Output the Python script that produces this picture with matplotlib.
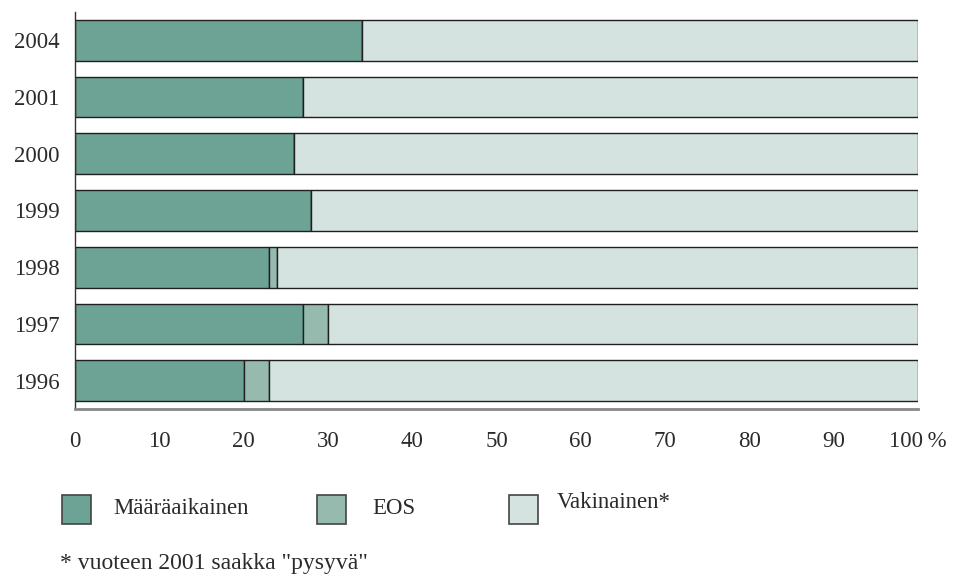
import matplotlib.pyplot as plt
from matplotlib.patches import Rectangle

plt.rcParams['font.family'] = ['Liberation Serif', 'DejaVu Serif']

years = ['1996', '1997', '1998', '1999', '2000', '2001', '2004']
maaraaikainen = [20, 27, 23, 28, 26, 27, 34]
eos = [3, 3, 1, 0, 0, 0, 0]
vakinainen = [77, 70, 76, 72, 74, 73, 66]

labels = ['Määräaikainen', 'EOS', 'Vakinainen*']
colors = ['#6da394', '#96baae', '#d4e3df']
edge = '#1f1f1f'
text_color = '#2b2b2b'

fig = plt.figure(figsize=(9.55, 5.8), dpi=100)
ax = fig.add_axes([75 / 955, 1 - 409 / 580, (918 - 75) / 955, (409 - 12) / 580])

pos = list(range(len(years)))
left = [0] * len(years)
for vals, col in zip([maaraaikainen, eos, vakinainen], colors):
    ax.barh(pos, vals, left=left, height=0.72, color=col,
            edgecolor=edge, linewidth=1.0)
    left = [a + b for a, b in zip(left, vals)]

ax.set_xlim(0, 100)
ax.set_ylim(-0.5, 6.5)
ax.set_yticks(pos)
ax.set_yticklabels(years)
ax.set_xticks(range(0, 101, 10))
ax.set_xticklabels([str(v) for v in range(0, 100, 10)] + ['100\u2009%'])
ax.tick_params(axis='both', length=0, labelsize=16.5, colors=text_color)
ax.tick_params(axis='x', pad=16)
ax.tick_params(axis='y', pad=11)
for s in ['top', 'right']:
    ax.spines[s].set_visible(False)
ax.spines['left'].set_color('#333333')
ax.spines['left'].set_linewidth(1.0)
ax.spines['bottom'].set_color('#888888')
ax.spines['bottom'].set_linewidth(2.0)

# legend drawn by hand
patch_x = [62, 317, 509]
text_x = [113, 372, 557]
text_y = [508, 508, 503]
for px, tx, ty, lab, col in zip(patch_x, text_x, text_y, labels, colors):
    fig.patches.append(Rectangle((px / 955, 1 - 524 / 580), 29 / 955, 29 / 580,
                                 transform=fig.transFigure, facecolor=col,
                                 edgecolor='#444444', linewidth=1.2))
    fig.text(tx / 955, 1 - ty / 580, lab, fontsize=16.5, color=text_color,
             va='center', ha='left')

fig.text(60 / 955, 1 - 563 / 580, '* vuoteen 2001 saakka "pysyvä"',
         fontsize=17, color=text_color, va='center', ha='left')

fig.savefig('out.png', dpi=100)
